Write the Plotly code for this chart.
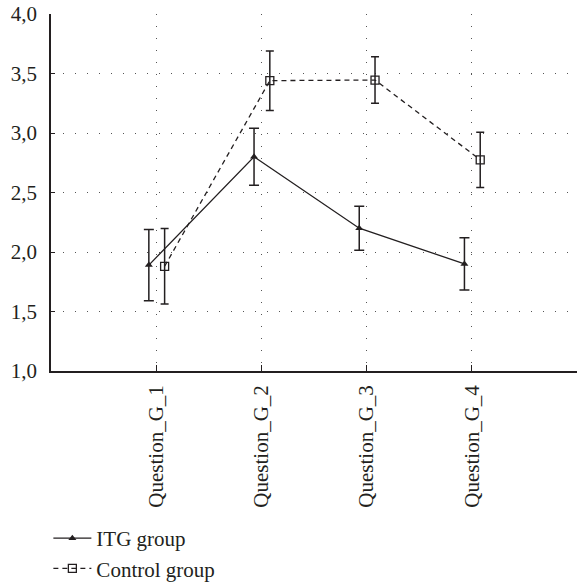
import plotly.graph_objects as go

categories = ["Question_G_1", "Question_G_2", "Question_G_3", "Question_G_4"]
itg_mean = [1.89, 2.80, 2.20, 1.90]
itg_err = [0.30, 0.24, 0.185, 0.22]
ctrl_mean = [1.88, 3.44, 3.445, 2.775]
ctrl_err = [0.317, 0.25, 0.195, 0.232]
y_ticks = [1.0, 1.5, 2.0, 2.5, 3.0, 3.5, 4.0]
y_grid = [1.5, 2.0, 2.5, 3.0, 3.5]

pos = list(range(1, len(categories) + 1))
itg_x = [p - 0.07 for p in pos]
ctrl_x = [p + 0.08 for p in pos]

FONT = "Liberation Serif, Tinos, Times New Roman, serif"
INK = "#231f20"
FS = 21

fig = go.Figure()
fig.add_trace(go.Scatter(
    x=itg_x, y=itg_mean, name="ITG group", mode="lines+markers",
    line=dict(color=INK, width=1.3),
    marker=dict(symbol="triangle-up", size=7, color=INK),
    error_y=dict(type="data", array=itg_err, visible=True, color=INK, thickness=1.5, width=5),
))
fig.add_trace(go.Scatter(
    x=ctrl_x, y=ctrl_mean, name="Control group", mode="lines+markers",
    line=dict(color=INK, width=1.3, dash="5px,4px"),
    marker=dict(symbol="square-open", size=8, color=INK, line=dict(width=1.3)),
    error_y=dict(type="data", array=ctrl_err, visible=True, color=INK, thickness=1.5, width=4),
))

fig.update_layout(
    width=579, height=584,
    margin=dict(l=51, r=2, t=14, b=213, autoexpand=False),
    paper_bgcolor="white", plot_bgcolor="white",
    separators=",.",
    font=dict(family=FONT, size=FS, color=INK),
    showlegend=True,
    legend=dict(x=-0.005, xanchor="left", yref="container", y=0.113, yanchor="top",
                font=dict(family=FONT, size=FS, color=INK),
                tracegroupgap=0, itemwidth=38, bgcolor="rgba(0,0,0,0)"),
)
fig.update_xaxes(
    range=[0, 5], tickmode="array", tickvals=pos, ticktext=categories,
    tickangle=-90, ticks="inside", ticklen=6, tickcolor=INK, tickwidth=1.2,
    showline=True, linecolor=INK, linewidth=1.5, mirror=False,
    showgrid=True, gridcolor="#555555", gridwidth=1, griddash="1px,11px",
    zeroline=False, ticklabelstandoff=4, automargin=False,
    tickfont=dict(family=FONT, size=FS, color=INK),
)
fig.update_yaxes(
    range=[1, 4], tickmode="array", tickvals=y_ticks, tickformat=".1f",
    ticks="inside", ticklen=4, tickcolor=INK, tickwidth=1.2,
    showline=True, linecolor=INK, linewidth=1.5, mirror=False,
    showgrid=False,
    minor=dict(tickmode="array", tickvals=y_grid, showgrid=True,
               gridcolor="#555555", gridwidth=1, griddash="1px,11px", ticks=""),
    zeroline=False, ticklabelstandoff=8, automargin=False,
    tickfont=dict(family=FONT, size=FS, color=INK),
)

fig.write_html("out.html", config={"displayModeBar": False},
               post_script="document.body.style.margin='0';document.body.style.padding='0';")
